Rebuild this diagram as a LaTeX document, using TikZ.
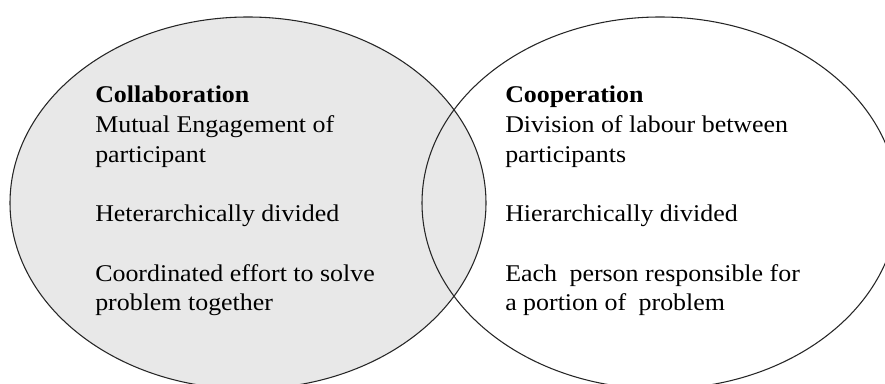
\documentclass[tikz,border=0pt]{standalone}
\usepackage{fontspec}
\setmainfont{Liberation Serif}[FakeStretch=1.08]
\definecolor{collabgray}{RGB}{232,232,232}
\tikzset{
  venntext/.style={anchor=base west, inner sep=0pt, font=\fontsize{18}{22}\selectfont},
  vennhead/.style={venntext, font=\fontsize{18}{22}\selectfont\bfseries},
  vennline/.style={draw=black!85, line width=0.8pt}
}

\begin{document}
\begin{tikzpicture}[x=0.75pt,y=-0.75pt]
  \useasboundingbox (0,0) rectangle (885,384);
  \filldraw[vennline, fill=collabgray] (248,203) ellipse [x radius=178.5pt, y radius=139.5pt];
  \draw[vennline] (660,203) ellipse [x radius=178.5pt, y radius=139.5pt];
  \node[vennhead] (collab) at (95,103) {Collaboration};
  \node[venntext] (mutual) at (95,132.7) {Mutual Engagement of};
  \node[venntext] (mutualb) at (95,162.4) {participant};
  \node[venntext] (heter) at (95,221.8) {Heterarchically divided};
  \node[venntext] (coord) at (95,281.2) {Coordinated effort to solve};
  \node[venntext] (coordb) at (95,310.9) {problem together};
  \node[vennhead] (coop) at (505,103) {Cooperation};
  \node[venntext] (division) at (505,132.7) {Division of labour between};
  \node[venntext] (divisionb) at (505,162.4) {participants};
  \node[venntext] (hier) at (505,221.8) {Hierarchically divided};
  \node[venntext] (each) at (505,281.2) {Each\hspace{0.25em} person responsible for};
  \node[venntext] (eachb) at (505,310.9) {a portion of\hspace{0.25em} problem};
\end{tikzpicture}
\end{document}
